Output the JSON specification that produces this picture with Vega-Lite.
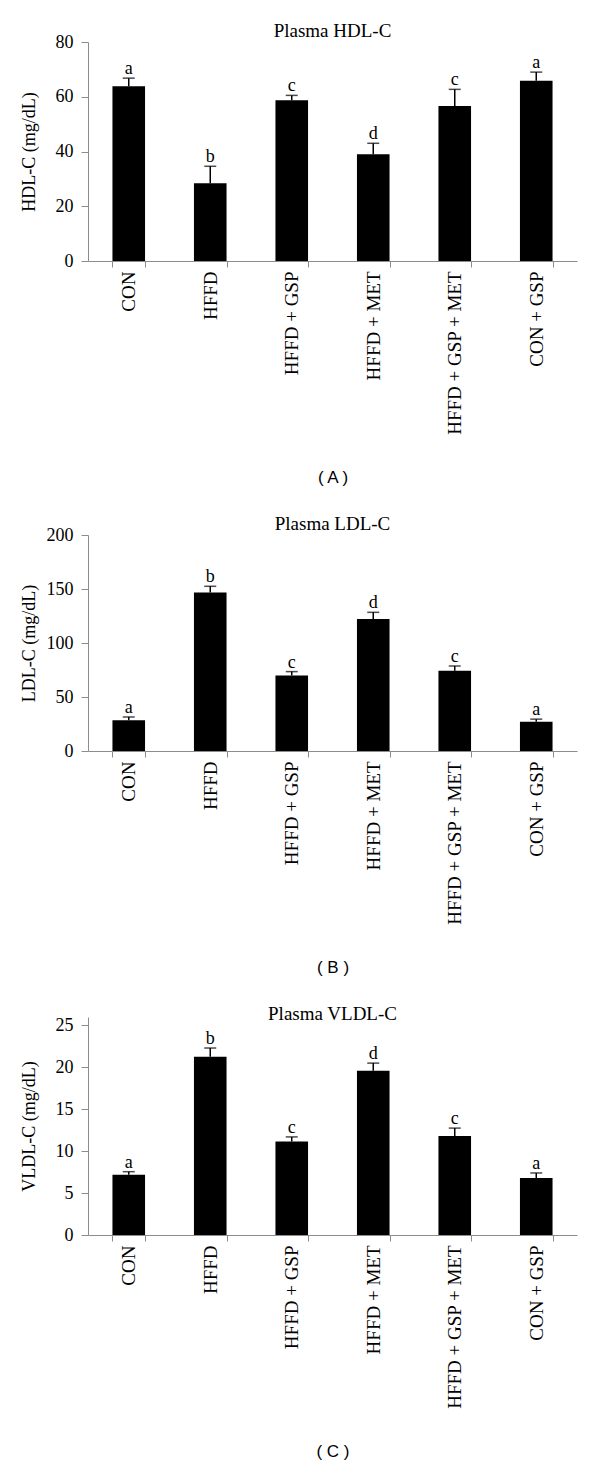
{
  "$schema": "https://vega.github.io/schema/vega-lite/v6.json",
  "padding": {"left": 20, "top": 22, "right": 5, "bottom": 0},
  "background": "#ffffff",
  "datasets": {
    "hdl": [
      {"group": "CON", "mean": 63.8, "upper": 66.8, "letter": "a"},
      {"group": "HFFD", "mean": 28.4, "upper": 34.6, "letter": "b"},
      {"group": "HFFD + GSP", "mean": 58.7, "upper": 60.5, "letter": "c"},
      {"group": "HFFD + MET", "mean": 39.0, "upper": 43.0, "letter": "d"},
      {"group": "HFFD + GSP + MET", "mean": 56.6, "upper": 62.7, "letter": "c"},
      {"group": "CON + GSP", "mean": 65.8, "upper": 69.0, "letter": "a"}
    ],
    "ldl": [
      {"group": "CON", "mean": 28.4, "upper": 31.5, "letter": "a"},
      {"group": "HFFD", "mean": 146.7, "upper": 152.5, "letter": "b"},
      {"group": "HFFD + GSP", "mean": 70.0, "upper": 73.5, "letter": "c"},
      {"group": "HFFD + MET", "mean": 122.2, "upper": 128.4, "letter": "d"},
      {"group": "HFFD + GSP + MET", "mean": 74.4, "upper": 78.7, "letter": "c"},
      {"group": "CON + GSP", "mean": 27.0, "upper": 29.5, "letter": "a"}
    ],
    "vldl": [
      {"group": "CON", "mean": 7.2, "upper": 7.55, "letter": "a"},
      {"group": "HFFD", "mean": 21.26, "upper": 22.3, "letter": "b"},
      {"group": "HFFD + GSP", "mean": 11.15, "upper": 11.7, "letter": "c"},
      {"group": "HFFD + MET", "mean": 19.6, "upper": 20.5, "letter": "d"},
      {"group": "HFFD + GSP + MET", "mean": 11.8, "upper": 12.75, "letter": "c"},
      {"group": "CON + GSP", "mean": 6.8, "upper": 7.4, "letter": "a"}
    ]
  },
  "vconcat": [
    {
      "width": 489, "height": 219,
      "title": {"text": "Plasma HDL-C"},
      "data": {"name": "hdl"},
      "encoding": {
        "x": {"field": "group", "type": "nominal", "sort": null,
              "scale": {"paddingInner": 0.6, "paddingOuter": 0.3},
              "axis": {"title": "( A )", "titleFont": "Liberation Sans", "titleFontSize": 17, "titlePadding": 35,
                       "labelAngle": -90, "labelFontSize": 19, "labelPadding": 4, "tickSize": 6, "tickBand": "extent"}}
      },
      "layer": [
        {"mark": {"type": "bar", "color": "#000000"},
         "encoding": {"y": {"field": "mean", "type": "quantitative", "title": "HDL-C (mg/dL)",
                            "scale": {"domain": [0, 80]},
                            "axis": {"values": [0, 20, 40, 60, 80], "tickSize": 7, "labelPadding": 8, "labelFontSize": 18, "titleFontSize": 18, "titleX": -49.5}}}},
        {"mark": {"type": "rule", "color": "#000000", "strokeWidth": 1.5},
         "encoding": {"y": {"field": "mean", "type": "quantitative", "title": "HDL-C (mg/dL)"}, "y2": {"field": "upper"}}},
        {"mark": {"type": "tick", "color": "#000000", "size": 12, "thickness": 1.5},
         "encoding": {"y": {"field": "upper", "type": "quantitative", "title": "HDL-C (mg/dL)"}}},
        {"mark": {"type": "text", "fontSize": 18, "font": "Liberation Serif", "baseline": "alphabetic", "dy": -4},
         "encoding": {"y": {"field": "upper", "type": "quantitative", "title": "HDL-C (mg/dL)"}, "text": {"field": "letter"}}}
      ]
    },
    {
      "width": 489, "height": 216,
      "title": {"text": "Plasma LDL-C"},
      "data": {"name": "ldl"},
      "encoding": {
        "x": {"field": "group", "type": "nominal", "sort": null,
              "scale": {"paddingInner": 0.6, "paddingOuter": 0.3},
              "axis": {"title": "( B )", "titleFont": "Liberation Sans", "titleFontSize": 17, "titlePadding": 35,
                       "labelAngle": -90, "labelFontSize": 19, "labelPadding": 4, "tickSize": 6, "tickBand": "extent"}}
      },
      "layer": [
        {"mark": {"type": "bar", "color": "#000000"},
         "encoding": {"y": {"field": "mean", "type": "quantitative", "title": "LDL-C (mg/dL)",
                            "scale": {"domain": [0, 200]},
                            "axis": {"values": [0, 50, 100, 150, 200], "tickSize": 7, "labelPadding": 8, "labelFontSize": 18, "titleFontSize": 18, "titleX": -49.5}}}},
        {"mark": {"type": "rule", "color": "#000000", "strokeWidth": 1.5},
         "encoding": {"y": {"field": "mean", "type": "quantitative", "title": "LDL-C (mg/dL)"}, "y2": {"field": "upper"}}},
        {"mark": {"type": "tick", "color": "#000000", "size": 12, "thickness": 1.5},
         "encoding": {"y": {"field": "upper", "type": "quantitative", "title": "LDL-C (mg/dL)"}}},
        {"mark": {"type": "text", "fontSize": 18, "font": "Liberation Serif", "baseline": "alphabetic", "dy": -4},
         "encoding": {"y": {"field": "upper", "type": "quantitative", "title": "LDL-C (mg/dL)"}, "text": {"field": "letter"}}}
      ]
    },
    {
      "width": 489, "height": 218,
      "title": {"text": "Plasma VLDL-C"},
      "data": {"name": "vldl"},
      "encoding": {
        "x": {"field": "group", "type": "nominal", "sort": null,
              "scale": {"paddingInner": 0.6, "paddingOuter": 0.3},
              "axis": {"title": "( C )", "titleFont": "Liberation Sans", "titleFontSize": 17, "titlePadding": 35,
                       "labelAngle": -90, "labelFontSize": 19, "labelPadding": 4, "tickSize": 6, "tickBand": "extent"}}
      },
      "layer": [
        {"mark": {"type": "bar", "color": "#000000"},
         "encoding": {"y": {"field": "mean", "type": "quantitative", "title": "VLDL-C (mg/dL)",
                            "scale": {"domain": [0, 25]},
                            "axis": {"values": [0, 5, 10, 15, 20, 25], "tickSize": 7, "labelPadding": 8, "labelFontSize": 18, "titleFontSize": 18, "titleX": -49.5}}}},
        {"mark": {"type": "rule", "color": "#000000", "strokeWidth": 1.5},
         "encoding": {"y": {"field": "mean", "type": "quantitative", "title": "VLDL-C (mg/dL)"}, "y2": {"field": "upper"}}},
        {"mark": {"type": "tick", "color": "#000000", "size": 12, "thickness": 1.5},
         "encoding": {"y": {"field": "upper", "type": "quantitative", "title": "VLDL-C (mg/dL)"}}},
        {"mark": {"type": "text", "fontSize": 18, "font": "Liberation Serif", "baseline": "alphabetic", "dy": -4},
         "encoding": {"y": {"field": "upper", "type": "quantitative", "title": "VLDL-C (mg/dL)"}, "text": {"field": "letter"}}}
      ]
    }
  ],
  "config": {
    "view": {"stroke": null},
    "font": "Liberation Serif",
    "concat": {"spacing": 29},
    "axis": {"grid": false, "domainColor": "#8c8c8c", "tickColor": "#8c8c8c", "labelColor": "#000000", "titleColor": "#000000",
             "labelFont": "Liberation Serif", "titleFont": "Liberation Serif", "titleFontWeight": "normal", "labelOverlap": false},
    "title": {"font": "Liberation Serif", "fontSize": 19, "fontWeight": "normal", "color": "#000000", "frame": "group", "baseline": "alphabetic", "offset": 4, "dy": 12}
  }
}
